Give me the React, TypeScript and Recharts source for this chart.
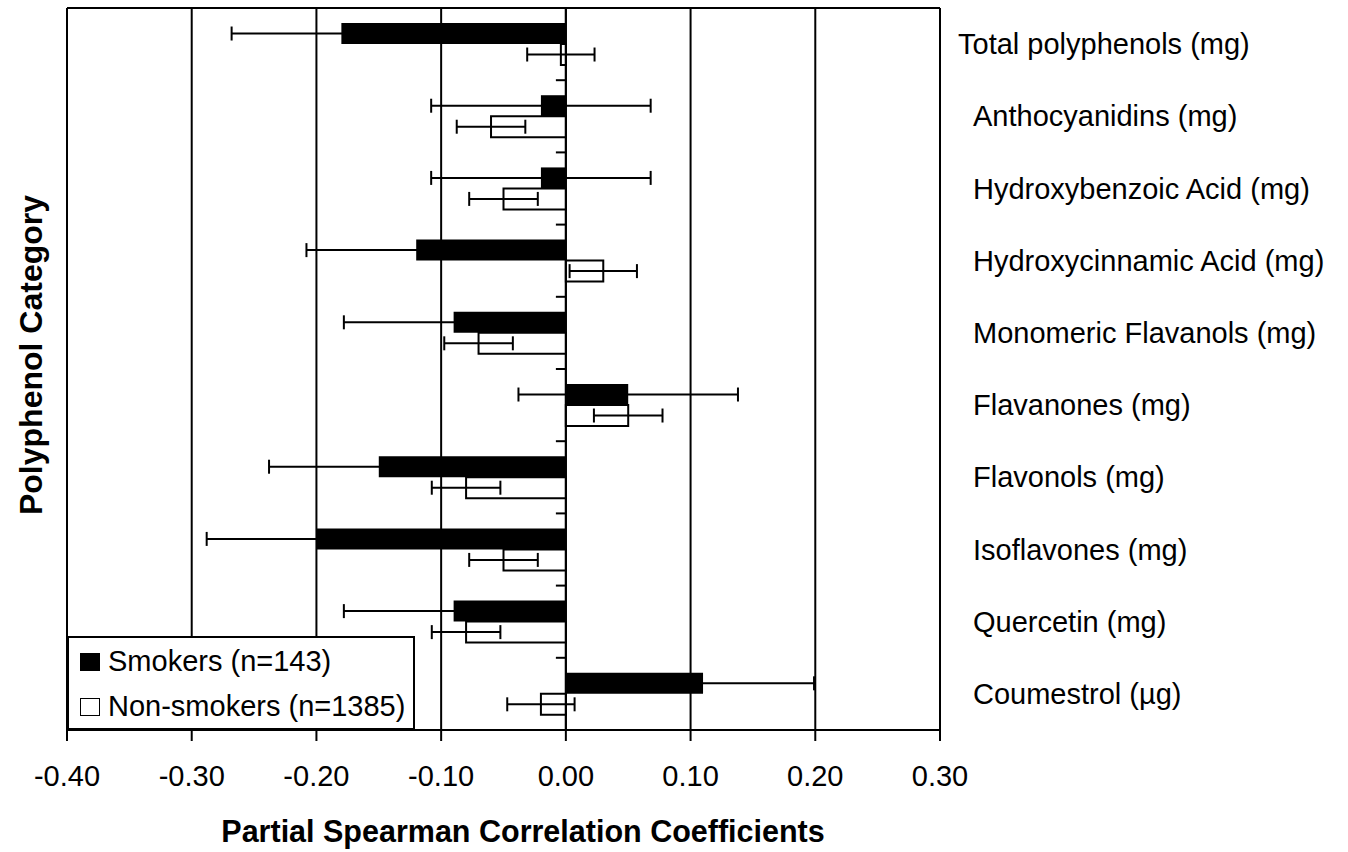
import { Bar, BarChart, CartesianGrid, ErrorBar, Legend, ReferenceLine, XAxis, YAxis } from "recharts";

const categories = [
  "Total polyphenols (mg)",
  "Anthocyanidins (mg)",
  "Hydroxybenzoic Acid (mg)",
  "Hydroxycinnamic Acid (mg)",
  "Monomeric Flavanols (mg)",
  "Flavanones (mg)",
  "Flavonols (mg)",
  "Isoflavones (mg)",
  "Quercetin (mg)",
  "Coumestrol (µg)",
];
const smokers = [-0.18, -0.02, -0.02, -0.12, -0.09, 0.05, -0.15, -0.2, -0.09, 0.11];
const smokersErr = [0.088, 0.088, 0.088, 0.088, 0.088, 0.088, 0.088, 0.088, 0.088, 0.089];
const nonSmokers = [-0.004, -0.06, -0.05, 0.03, -0.07, 0.05, -0.08, -0.05, -0.08, -0.02];
const nonSmokersErr = [0.027, 0.0275, 0.0275, 0.027, 0.0275, 0.0275, 0.0275, 0.0275, 0.0275, 0.027];
const xTicks = [-0.4, -0.3, -0.2, -0.1, 0, 0.1, 0.2, 0.3];
const seriesOrder = ["smokers", "nonSmokers"];

const data = categories.map((name, i) => ({
  name,
  smokers: smokers[i],
  smokersErr: smokersErr[i],
  nonSmokers: nonSmokers[i],
  nonSmokersErr: nonSmokersErr[i],
}));

const font = "'Liberation Sans', Arial, sans-serif";

function CategoryTick({ x, y, payload, index }: any) {
  return (
    <text x={x + (index === 0 ? 18 : 33)} y={y} dy="0.35em" textAnchor="start" fontSize={29} fontFamily={font} fill="#000">
      {payload.value}
    </text>
  );
}

function LegendBox({ payload }: any) {
  const items = [...(payload || [])].sort(
    (a: any, b: any) => seriesOrder.indexOf(a.dataKey) - seriesOrder.indexOf(b.dataKey)
  );
  return (
    <div
      style={{
        boxSizing: "border-box",
        width: 348,
        height: 94,
        border: "2px solid #000",
        background: "#fff",
        paddingTop: 1,
        fontFamily: font,
        fontSize: 29,
      }}
    >
      {items.map((entry: any) => (
        <div key={entry.value} style={{ display: "flex", alignItems: "center", height: 45 }}>
          <span
            style={{
              boxSizing: "border-box",
              display: "inline-block",
              width: 20,
              height: 18,
              marginLeft: 11,
              marginRight: 8,
              background: entry.payload?.fill ?? entry.color,
              border: "1.5px solid #000",
            }}
          />
          <span style={{ whiteSpace: "nowrap", lineHeight: 1 }}>{entry.value}</span>
        </div>
      ))}
    </div>
  );
}

export default function App() {
  return (
    <div style={{ position: "absolute", left: 0, top: 0, width: 1348, height: 852, background: "#fff", fontFamily: font }}>
      <BarChart
        width={1348}
        height={852}
        data={data}
        layout="vertical"
        margin={{ top: 8, right: 0, bottom: 50, left: 67 }}
        barCategoryGap="20.8%"
        barGap={0}
      >
        <CartesianGrid horizontal={false} stroke="#000" strokeWidth={2} />
        <XAxis
          type="number"
          domain={[-0.4, 0.3]}
          ticks={xTicks}
          allowDataOverflow
          height={72}
          tickFormatter={(v: number) => v.toFixed(2)}
          tick={{ fontSize: 29, fill: "#000", fontFamily: font }}
          tickSize={11}
          tickMargin={24}
          axisLine={{ stroke: "#000", strokeWidth: 2 }}
          tickLine={{ stroke: "#000", strokeWidth: 2 }}
        />
        <YAxis
          type="category"
          dataKey="name"
          orientation="right"
          width={408}
          axisLine={false}
          tickLine={false}
          tickSize={0}
          tickMargin={0}
          interval={0}
          tick={<CategoryTick />}
        />
        <Bar dataKey="smokers" name="Smokers (n=143)" fill="#000" isAnimationActive={false}>
          <ErrorBar dataKey="smokersErr" direction="x" width={7} stroke="#000" strokeWidth={2} isAnimationActive={false} />
        </Bar>
        <Bar dataKey="nonSmokers" name="Non-smokers (n=1385)" fill="#fff" stroke="#000" strokeWidth={2} isAnimationActive={false}>
          <ErrorBar dataKey="nonSmokersErr" direction="x" width={7} stroke="#000" strokeWidth={2} isAnimationActive={false} />
        </Bar>
        <ReferenceLine x={0} stroke="#000" strokeWidth={2} />
        {/* top border of the plot area */}
        <ReferenceLine y={categories[0]} position="start" stroke="#000" strokeWidth={2} />
        {categories.slice(1).map((c) => (
          <ReferenceLine
            key={c}
            position="start"
            segment={[
              { x: -0.008, y: c },
              { x: 0, y: c },
            ]}
            stroke="#000"
            strokeWidth={2}
          />
        ))}
        <Legend
          layout="vertical"
          align="center"
          verticalAlign="middle"
          wrapperStyle={{ left: 67, top: 636, width: 348, height: 94 }}
          content={<LegendBox />}
        />
      </BarChart>
      <div
        style={{
          position: "absolute",
          left: 523,
          top: 831,
          transform: "translate(-50%, -50%)",
          fontSize: 30.5,
          fontWeight: "bold",
          lineHeight: 1,
          whiteSpace: "nowrap",
        }}
      >
        Partial Spearman Correlation Coefficients
      </div>
      <div
        style={{
          position: "absolute",
          left: 31,
          top: 355,
          transform: "translate(-50%, -50%) rotate(-90deg)",
          fontSize: 32,
          fontWeight: "bold",
          lineHeight: 1,
          whiteSpace: "nowrap",
        }}
      >
        Polyphenol Category
      </div>
    </div>
  );
}
